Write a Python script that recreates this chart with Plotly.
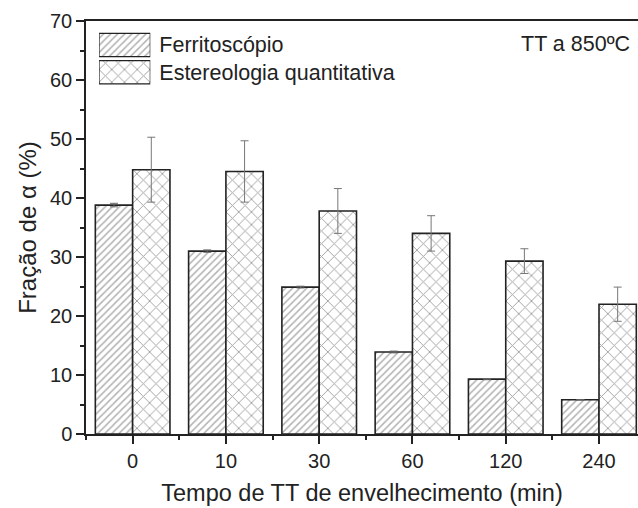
import plotly.graph_objects as go

categories = ["0", "10", "30", "60", "120", "240"]
series_names = ["Ferritoscópio", "Estereologia quantitativa"]
ferrito = [38.8, 31.0, 24.9, 13.9, 9.3, 5.8]
ferrito_err = [0.3, 0.2, 0.15, 0.15, 0.1, 0.0]
estereo = [44.8, 44.5, 37.8, 34.0, 29.3, 22.0]
estereo_err = [5.5, 5.2, 3.8, 3.0, 2.1, 2.9]

xpos = list(range(len(categories)))
FONT = "Liberation Sans, Arial, sans-serif"
INK = "#222"

pat_f = dict(shape="/", fgcolor="#666", bgcolor="white", size=5, solidity=0.3)
pat_e = dict(shape="x", fgcolor="#444", bgcolor="white", size=9, solidity=0.2)
outline = dict(color=INK, width=1.6)

fig = go.Figure()
fig.add_trace(go.Bar(
    x=xpos, y=ferrito, name=series_names[0], showlegend=False,
    marker=dict(color="white", line=outline, pattern=pat_f),
    error_y=dict(type="data", array=ferrito_err, color="#666", thickness=1, width=4),
))
fig.add_trace(go.Bar(
    x=xpos, y=estereo, name=series_names[1], showlegend=False,
    marker=dict(color="white", line=outline, pattern=pat_e),
    error_y=dict(type="data", array=estereo_err, color="#777", thickness=1, width=4),
))

# legend drawn as an inset of horizontal swatch bars labelled with the series names
fig.add_trace(go.Bar(
    y=[series_names[0]], x=[1], orientation="h", xaxis="x2", yaxis="y2",
    showlegend=False, hoverinfo="skip", width=0.85,
    marker=dict(color="white", line=dict(color=INK, width=1.2), pattern=pat_f),
))
fig.add_trace(go.Bar(
    y=[series_names[1]], x=[1], orientation="h", xaxis="x2", yaxis="y2",
    showlegend=False, hoverinfo="skip", width=0.85,
    marker=dict(color="white", line=dict(color=INK, width=1.2), pattern=pat_e),
))

fig.update_layout(
    width=638, height=508,
    margin=dict(l=86, r=0, t=21, b=74),
    paper_bgcolor="white", plot_bgcolor="white",
    barmode="group", bargap=0.2, bargroupgap=0,
    font=dict(family=FONT, size=20, color=INK),
    showlegend=False,
    xaxis=dict(
        range=[-0.5, 5.418], tickmode="array", tickvals=xpos, ticktext=categories,
        showline=True, linecolor=INK, linewidth=1.5, mirror=True,
        ticks="outside", ticklen=8, tickwidth=1.5, tickcolor=INK,
        minor=dict(tickmode="linear", tick0=0.5, dtick=1, ticks="outside", ticklen=4,
                   tickwidth=1.5, tickcolor=INK),
        showgrid=False, zeroline=False,
        tickfont=dict(size=20),
        title=dict(text="Tempo de TT de envelhecimento (min)", font=dict(size=23.5), standoff=14),
    ),
    yaxis=dict(
        range=[0, 70], tickmode="linear", tick0=0, dtick=10,
        showline=True, linecolor=INK, linewidth=1.5, mirror=False,
        ticks="outside", ticklen=8, tickwidth=1.5, tickcolor=INK,
        minor=dict(tickmode="linear", tick0=0, dtick=5, ticks="outside", ticklen=4,
                   tickwidth=1.5, tickcolor=INK),
        showgrid=False, zeroline=False,
        tickfont=dict(size=20),
        title=dict(text="Fração de α (%)", font=dict(size=24), standoff=7),
    ),
    xaxis2=dict(domain=[0.0236, 0.1165], range=[0, 1], anchor="y2", visible=False, fixedrange=True),
    yaxis2=dict(domain=[0.843, 0.975], anchor="x2", side="right", autorange="reversed",
                type="category", showline=False, showgrid=False, zeroline=False, ticks="",
                ticklabelstandoff=8, tickfont=dict(size=21.5, family=FONT, color=INK)),
    annotations=[dict(text="TT a 850ºC", xref="paper", yref="paper", x=0.99, y=0.945,
                      xanchor="right", yanchor="middle", showarrow=False,
                      font=dict(size=21.5, family=FONT, color=INK))],
)

fig.write_html("out.html")
